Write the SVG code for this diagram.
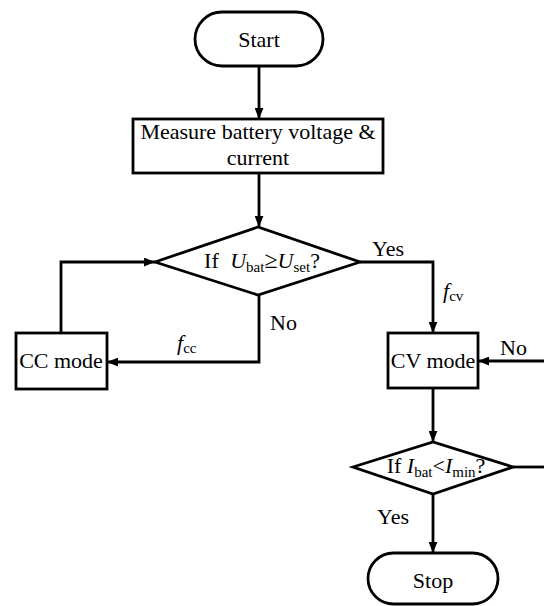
<svg xmlns="http://www.w3.org/2000/svg" width="544" height="606" viewBox="0 0 544 606">
<style>
.s{fill:#fff;stroke:#000;stroke-width:2.8}
.c{fill:none;stroke:#000;stroke-width:2.8}
text{font-family:"Liberation Serif","Times New Roman",serif;font-size:22px;fill:#000}
.m{text-anchor:middle}
.i{font-style:italic}
.sb{font-size:15px}
</style>
<defs>
<marker id="a" viewBox="0 0 10 8" refX="10" refY="4" markerWidth="11" markerHeight="9" markerUnits="userSpaceOnUse" orient="auto">
<path d="M0,0L10,4L0,8z" fill="#000"/>
</marker>
</defs>
<g id="connectors">
<path class="c" d="M259,66V119" marker-end="url(#a)"/>
<path class="c" d="M259,173V227" marker-end="url(#a)"/>
<path class="c" d="M360,262H433V333" marker-end="url(#a)"/>
<path class="c" d="M259,295V362H107" marker-end="url(#a)"/>
<path class="c" d="M61,333V262H155" marker-end="url(#a)"/>
<path class="c" d="M433,388V442" marker-end="url(#a)"/>
<path class="c" d="M513,467H544"/>
<path class="c" d="M544,361H478" marker-end="url(#a)"/>
<path class="c" d="M433,494V553" marker-end="url(#a)"/>
<text x="372" y="256">Yes</text>
<text x="443" y="298" class="i">f<tspan class="sb" dy="3" style="font-style:normal">cv</tspan></text>
<text x="270" y="330">No</text>
<text x="177" y="350" class="i">f<tspan class="sb" dy="3" style="font-style:normal">cc</tspan></text>
<text x="500" y="355">No</text>
<text x="377" y="524">Yes</text>
</g>
<g id="start">
<rect class="s" x="195" y="12" width="128" height="54" rx="27"/>
<text class="m" x="259" y="47">Start</text>
</g>
<g id="measure">
<rect class="s" x="133" y="119" width="250" height="54"/>
<text class="m" x="258" y="139">Measure battery voltage &amp;</text>
<text class="m" x="258" y="165">current</text>
</g>
<g id="decision1">
<path class="s" d="M155,262L258,227L360,262L258,295Z"/>
<text class="m" x="262" y="268">If <tspan class="i" dx="6">U</tspan><tspan class="sb" dy="4">bat</tspan><tspan dy="-4" font-size="24">≥</tspan><tspan class="i">U</tspan><tspan class="sb" dy="4">set</tspan><tspan dy="-4">?</tspan></text>
</g>
<g id="cc">
<rect class="s" x="16" y="333" width="91" height="56"/>
<text class="m" x="61" y="368">CC mode</text>
</g>
<g id="cv">
<rect class="s" x="388" y="333" width="90" height="55"/>
<text class="m" x="433" y="368">CV mode</text>
</g>
<g id="decision2">
<path class="s" d="M353,467L433,442L513,467L433,494Z"/>
<text class="m" x="436" y="473">If <tspan class="i">I</tspan><tspan class="sb" dy="4">bat</tspan><tspan dy="-4">&lt;</tspan><tspan class="i">I</tspan><tspan class="sb" dy="4">min</tspan><tspan dy="-4">?</tspan></text>
</g>
<g id="stop">
<rect class="s" x="368" y="553" width="130" height="51" rx="25.5"/>
<text class="m" x="433" y="588">Stop</text>
</g>
</svg>
